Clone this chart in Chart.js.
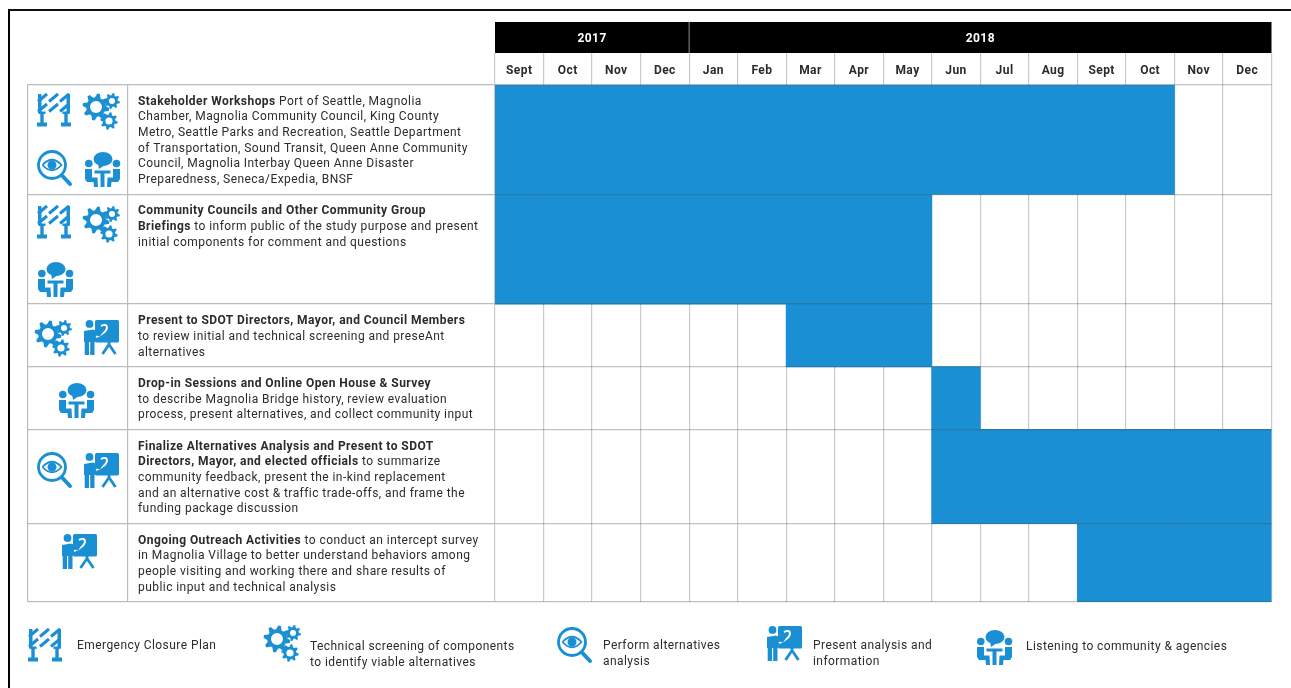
<!DOCTYPE html>
<html>
<head>
<meta charset="utf-8">
<title>Outreach schedule</title>
<style>
    html, body { margin: 0; padding: 0; background: #fff; overflow: hidden; }
    #wrap { position: relative; width: 1291px; height: 688px; }
    #frame { position: absolute; left: 8px; top: 9px; right: 0; bottom: 0; border-left: 2.5px solid #000; border-top: 2px solid #111; }
    canvas { position: absolute; left: 0; top: 0; }
</style>
</head>
<body>
<div id="wrap">
    <div id="frame"></div>
    <canvas id="scheduleChart"></canvas>
</div>
<script src="https://cdn.jsdelivr.net/npm/chart.js@4"></script>
<script>
const months = ['Sept', 'Oct', 'Nov', 'Dec', 'Jan', 'Feb', 'Mar', 'Apr', 'May', 'Jun', 'Jul', 'Aug', 'Sept', 'Oct', 'Nov', 'Dec'];
const years = ['2017', '2018'];
const yearMonths = [4, 12];

// row height in text lines (one blank line of padding included)
const rowLines = [7, 7, 4, 4, 6, 5];
const startMonth = [0, 0, 6, 9, 9, 12];
const endMonth = [14, 9, 9, 10, 16, 16];

// each line: [bold part, regular part]
const rowText = [
    [['Stakeholder Workshops', ' Port of Seattle, Magnolia'],
     ['', 'Chamber, Magnolia Community Council, King County'],
     ['', 'Metro, Seattle Parks and Recreation, Seattle Department'],
     ['', 'of Transportation, Sound Transit, Queen Anne Community'],
     ['', 'Council, Magnolia Interbay Queen Anne Disaster'],
     ['', 'Preparedness, Seneca/Expedia, BNSF']],
    [['Community Councils and Other Community Group', ''],
     ['Briefings', ' to inform public of the study purpose and present'],
     ['', 'initial components for comment and questions']],
    [['Present to SDOT Directors, Mayor, and Council Members', ''],
     ['', 'to review initial and technical screening and preseAnt'],
     ['', 'alternatives']],
    [['Drop-in Sessions and Online Open House & Survey', ''],
     ['', 'to describe Magnolia Bridge history, review evaluation'],
     ['', 'process, present alternatives, and collect community input']],
    [['Finalize Alternatives Analysis and Present to SDOT', ''],
     ['Directors, Mayor, and elected officials', ' to summarize'],
     ['', 'community feedback, present the in-kind replacement'],
     ['', 'and an alternative cost & traffic trade-offs, and frame the'],
     ['', 'funding package discussion']],
    [['Ongoing Outreach Activities', ' to conduct an intercept survey'],
     ['', 'in Magnolia Village to better understand behaviors among'],
     ['', 'people visiting and working there and share results of'],
     ['', 'public input and technical analysis']]
];

const legendLabels = [
    ['Emergency Closure Plan'],
    ['Technical screening of components', 'to identify viable alternatives'],
    ['Perform alternatives', 'analysis'],
    ['Present analysis and', 'information'],
    ['Listening to community & agencies']
];

const BLUE = '#1a8fd3';
const INK = '#2b2b2b';
const FONT = 'Roboto, sans-serif';

// icon placement, x / y of the icon box
const rowIcons = [
    [['barrier', 37, 93], ['gears', 83, 93], ['glass', 37, 150], ['listen', 85, 152]],
    [['barrier', 37, 205], ['gears', 83, 206], ['listen', 38, 262]],
    [['gears', 35, 320], ['present', 84, 320]],
    [['listen', 59, 383]],
    [['glass', 37, 452], ['present', 84, 453]],
    [['present', 62, 534]]
];
const legendIcons = [['barrier', 28, 628], ['gears', 264, 625], ['glass', 557, 627], ['present', 767, 626], ['listen', 977, 630]];
const legendTextX = [77, 310, 603, 813, 1026];
const legendTextY = [646, 647, 646, 646, 647];

const rowEdges = rowLines.reduce((acc, n) => acc.concat(acc[acc.length - 1] + n), [0]);

const drawGear = (ctx, cx, cy, r, hole, teeth) => {
    ctx.beginPath();
    for (let i = 0; i < teeth * 4; i++) {
        const a = (i + 0.5) / (teeth * 4) * Math.PI * 2;
        const rad = i % 4 < 2 ? r : r * 0.72;
        ctx[i ? 'lineTo' : 'moveTo'](cx + Math.cos(a) * rad, cy + Math.sin(a) * rad);
    }
    ctx.closePath();
    ctx.moveTo(cx + hole, cy);
    ctx.arc(cx, cy, hole, 0, Math.PI * 2, true);
    ctx.fill('evenodd');
};

const poly = (ctx, pts) => {
    ctx.beginPath();
    pts.forEach((p, i) => ctx[i ? 'lineTo' : 'moveTo'](p[0], p[1]));
    ctx.closePath();
    ctx.fill();
};

const icons = {
    barrier(ctx) {
        // two boards of slanted stripes on two posts
        ctx.lineWidth = 3;
        ctx.beginPath();
        [1, 11].forEach(y => {
            [0, 11, 22].forEach(x => {
                ctx.moveTo(x + 1, y + 7.5);
                ctx.lineTo(x + 10, y);
            });
        });
        ctx.stroke();
        ctx.fillRect(1, 1, 3.5, 19);
        ctx.fillRect(29.5, 1, 3.5, 19);
        [5, 29].forEach(x => {
            ctx.fillRect(x - 1.7, 19, 3.4, 12);
            ctx.fillRect(x - 5, 29.5, 10, 4);
            ctx.fillRect(x - 3.5, 18.5, 7, 2.5);
        });
    },
    gears(ctx) {
        drawGear(ctx, 13, 14, 13.5, 6, 8);
        drawGear(ctx, 29, 8, 8, 3, 8);
        drawGear(ctx, 26, 28, 8.8, 3.6, 8);
    },
    glass(ctx) {
        ctx.lineWidth = 2.8;
        ctx.beginPath();
        ctx.arc(15, 15, 13.5, 0, Math.PI * 2);
        ctx.stroke();
        ctx.lineWidth = 4;
        ctx.lineCap = 'round';
        ctx.beginPath();
        ctx.moveTo(25.5, 26);
        ctx.lineTo(33, 34);
        ctx.stroke();
        ctx.lineCap = 'butt';
        ctx.lineWidth = 1.8;
        ctx.beginPath();
        ctx.moveTo(5.5, 15);
        ctx.quadraticCurveTo(15, 4.5, 24.5, 15);
        ctx.quadraticCurveTo(15, 25.5, 5.5, 15);
        ctx.stroke();
        ctx.beginPath();
        ctx.arc(15, 15, 4.5, 0, Math.PI * 2);
        ctx.fill();
    },
    listen(ctx) {
        ctx.beginPath();
        ctx.ellipse(18, 7, 9.5, 7, 0, 0, Math.PI * 2);
        ctx.fill();
        poly(ctx, [[13, 11], [14, 17], [20, 13]]);
        [3.8, 31.5].forEach(x => {
            ctx.beginPath();
            ctx.arc(x, 11.5, 3.8, 0, Math.PI * 2);
            ctx.fill();
        });
        ctx.fillRect(9.5, 18.5, 16, 3);
        ctx.fillRect(15.5, 20, 4, 15);
        poly(ctx, [[0, 17], [7, 17], [7, 25.5], [12.5, 25.5], [13, 35], [9, 35], [8.5, 30], [2, 30], [0, 27]]);
        poly(ctx, [[35, 17], [28, 17], [28, 25.5], [22.5, 25.5], [22, 35], [26, 35], [26.5, 30], [33, 30], [35, 27]]);
    },
    present(ctx) {
        // board with tripod
        ctx.beginPath();
        ctx.roundRect(11, 0, 24, 22.5, 1.5);
        ctx.fill();
        ctx.lineWidth = 2.8;
        ctx.beginPath();
        ctx.moveTo(25, 21);
        ctx.lineTo(25, 27);
        ctx.moveTo(25, 24.5);
        ctx.lineTo(18.5, 34);
        ctx.moveTo(25, 24.5);
        ctx.lineTo(31.5, 34);
        ctx.stroke();
        // white "2" shaped gap for the arm
        ctx.strokeStyle = '#fff';
        ctx.lineWidth = 2;
        ctx.beginPath();
        ctx.moveTo(17, 6);
        ctx.quadraticCurveTo(23, 3, 23, 8);
        ctx.quadraticCurveTo(22, 13, 12, 17);
        ctx.stroke();
        ctx.strokeStyle = BLUE;
        // person
        ctx.beginPath();
        ctx.arc(5.5, 3.9, 3.9, 0, Math.PI * 2);
        ctx.fill();
        poly(ctx, [[0, 11], [9, 9.5], [15, 12], [19, 7], [21, 9], [16, 16.5], [11, 15], [11, 22], [0, 22]]);
        ctx.fillRect(0.7, 21, 4.3, 14);
        ctx.fillRect(6.2, 21, 4.3, 14);
    }
};

const drawIcon = (ctx, item) => {
    ctx.save();
    ctx.translate(item[1], item[2]);
    ctx.fillStyle = BLUE;
    ctx.strokeStyle = BLUE;
    icons[item[0]](ctx);
    ctx.restore();
};

const scheduleTable = {
    id: 'scheduleTable',
    beforeDraw(chart) {
        chart.ctx.letterSpacing = '0.44px';
    },
    beforeDatasetsDraw(chart) {
        const { ctx, scales: { x, y } } = chart;
        const colWidth = x.width / months.length;
        ctx.save();

        // year band above the month ticks
        ctx.fillStyle = '#000';
        ctx.fillRect(x.left, 22, x.width, 31);
        let first = 0;
        years.forEach((year, i) => {
            const left = x.left + first * colWidth;
            const right = left + yearMonths[i] * colWidth;
            ctx.fillStyle = '#fff';
            ctx.font = 'bold 12px ' + FONT;
            ctx.textAlign = 'center';
            ctx.textBaseline = 'middle';
            ctx.fillText(year, (left + right) / 2, 38.5);
            if (i > 0) {
                ctx.fillStyle = '#8c8c8c';
                ctx.fillRect(left - 0.5, 22, 1, 31);
            }
            first += yearMonths[i];
        });

        // left edge and divider of the description column
        ctx.fillStyle = '#bcbcbc';
        ctx.fillRect(27, y.top, 1.2, y.height);
        ctx.fillRect(127, y.top, 1.2, y.height);

        // row descriptions
        ctx.textAlign = 'left';
        ctx.textBaseline = 'middle';
        ctx.fillStyle = INK;
        rowText.forEach((lines, r) => {
            lines.forEach((parts, i) => {
                const py = y.getPixelForValue(rowEdges[r] + 1 + i) + 1.5;
                ctx.font = 'bold 12px ' + FONT;
                ctx.fillText(parts[0], 138, py);
                const w = ctx.measureText(parts[0]).width;
                ctx.font = '12px ' + FONT;
                ctx.fillText(parts[1], 138 + w, py);
            });
            rowIcons[r].forEach(item => drawIcon(ctx, item));
        });

        // legend
        legendLabels.forEach((lines, i) => {
            drawIcon(ctx, legendIcons[i]);
            ctx.fillStyle = INK;
            ctx.font = '12px ' + FONT;
            lines.forEach((line, j) => ctx.fillText(line, legendTextX[i], legendTextY[i] + j * 15.5));
        });
        ctx.restore();
    }
};

document.addEventListener('DOMContentLoaded', function() {
    const datasets = rowLines.map((n, r) => ({
        label: rowText[r][0][0],
        data: months.map((m, i) => (i >= startMonth[r] && i < endMonth[r]) ? [rowEdges[r], rowEdges[r + 1]] : null),
        backgroundColor: BLUE,
        borderWidth: 0,
        borderSkipped: false,
        grouped: false,
        barPercentage: 1,
        categoryPercentage: 1,
        inflateAmount: 0.4
    }));

    new Chart(document.getElementById('scheduleChart').getContext('2d'), {
        type: 'bar',
        data: { labels: months, datasets: datasets },
        plugins: [scheduleTable],
        options: {
            responsive: true,
            maintainAspectRatio: false,
            animation: false,
            layout: { padding: { left: 27.5, top: 53, right: 19.5, bottom: 86 } },
            plugins: { legend: { display: false }, tooltip: { enabled: false } },
            scales: {
                x: {
                    position: 'top',
                    offset: true,
                    afterFit: scale => { scale.height = 31.5; },
                    border: { display: false },
                    grid: { offset: true, color: '#cacaca', tickColor: '#cacaca', tickLength: 31.5, lineWidth: 1.2, tickWidth: 1.2 },
                    ticks: {
                        autoSkip: false,
                        maxRotation: 0,
                        padding: -25,
                        color: INK,
                        font: { family: FONT, size: 12, weight: 'bold' }
                    }
                },
                y: {
                    reverse: true,
                    min: 0,
                    max: rowEdges[rowEdges.length - 1],
                    afterBuildTicks: scale => { scale.ticks = rowEdges.map(v => ({ value: v })); },
                    afterFit: scale => { scale.width = 467.5; },
                    border: { display: false },
                    grid: { color: 'rgba(80,80,80,0.34)', tickColor: '#bcbcbc', tickLength: 467.5, lineWidth: 1.2, tickWidth: 1.2, z: 1 },
                    ticks: { display: false, autoSkip: false }
                }
            }
        }
    });
});
</script>
</body>
</html>
